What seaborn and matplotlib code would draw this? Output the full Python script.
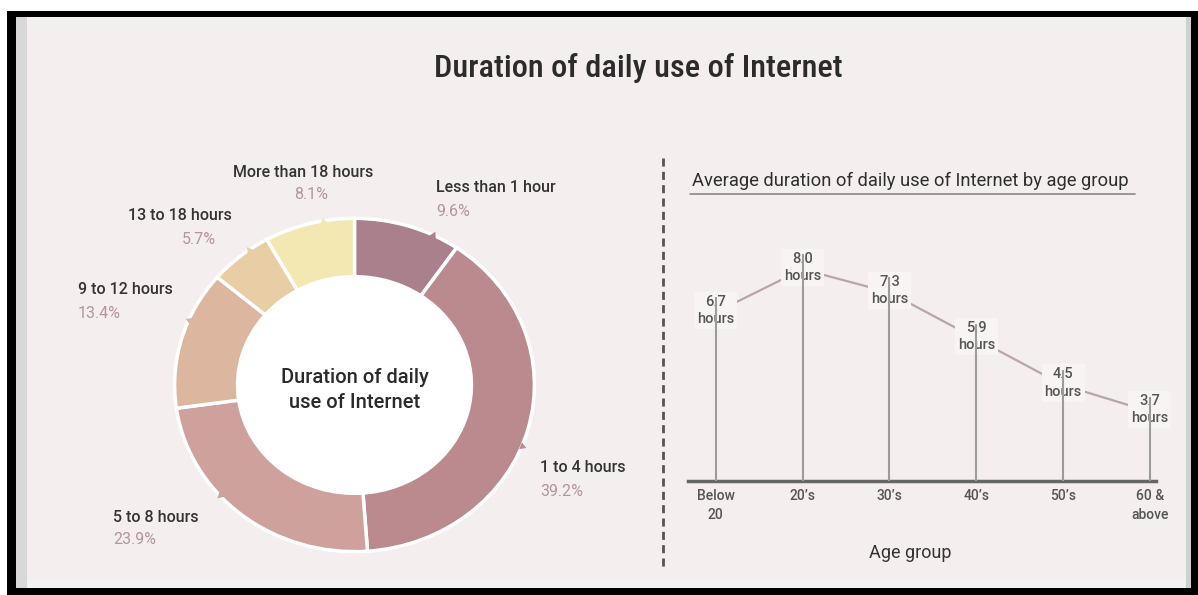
import matplotlib
matplotlib.use('Agg')
import matplotlib.pyplot as plt
import seaborn as sns
import numpy as np
import pandas as pd
from matplotlib.patches import Rectangle, Circle
from matplotlib.lines import Line2D
from matplotlib.transforms import ScaledTranslation

# ------------------------------------------------------------
# data
# ------------------------------------------------------------
usage_labels = ['Less than 1 hour', '1 to 4 hours', '5 to 8 hours',
                '9 to 12 hours', '13 to 18 hours', 'More than 18 hours']
usage_share = [9.6, 39.2, 23.9, 13.4, 5.7, 8.1]

age_groups = ['Below\n20', '20\u2019s', '30\u2019s', '40\u2019s', '50\u2019s', '60 &\nabove']
avg_hours = [6.7, 8.0, 7.3, 5.9, 4.5, 3.7]

# styles
usage_colors = ['#a9808b', '#ba8a8f', '#cfa19c', '#dcb69f', '#e9cea5', '#f4e8b2']
BG = '#f5eeee'
DARK = '#333333'
PCT = '#b3959a'

# label anchors in pixels: (name x, name y, pct x, pct y, ha)
label_pos = [
    (436, 187, 436, 211, 'left'),
    (540, 468, 540, 492, 'left'),
    (113, 517, 113, 540, 'left'),
    (78, 290, 78, 313, 'left'),
    (180, 215, 199, 240, 'center'),
    (303, 172, 311, 195, 'center'),
]
# small callout notches on the ring edge (degrees)
notch_angles = [64, -21.5, 221.5, 157, 126, 100]

sns.set_theme(style='white')
plt.rcParams['font.family'] = ['Roboto', 'DejaVu Sans']

W, H = 1198, 595


def fx(x):
    return x / W


def fy(y):
    return 1 - y / H


def px_rect(x0, y0, x1, y1, color, z=-5):
    r = Rectangle((fx(x0), fy(y1)), fx(x1) - fx(x0), fy(y0) - fy(y1),
                  transform=fig.transFigure, facecolor=color, edgecolor='none', zorder=z)
    fig.add_artist(r)


fig = plt.figure(figsize=(W / 100, H / 100), dpi=100, facecolor='white')

# framed panel
px_rect(7, 11, 1198, 595, 'black', -7)
px_rect(16, 17, 1191, 588, '#f3f1f1', -6)
px_rect(16, 17, 27, 588, '#d8d8d8', -5)
px_rect(1186, 17, 1191, 588, '#d0d0d0', -5)
px_rect(27, 20, 1186, 581, BG, -5)

# title
title = fig.text(fx(638), fy(68), 'Duration of daily use of Internet', ha='center', va='center',
                 fontsize=30, color='#2b2b2b', weight='medium',
                 family=['Roboto Condensed', 'Liberation Sans Narrow', 'Roboto', 'DejaVu Sans'])

# ============================================================
# DONUT
# ============================================================
ax_pie = fig.add_axes([fx(171), fy(555), fx(538) - fx(171), fy(215) - fy(555)])
ax_pie.set_facecolor('none')
wedges, _ = ax_pie.pie(usage_share, colors=usage_colors, startangle=90, counterclock=False,
                       radius=1, wedgeprops=dict(width=0.35, edgecolor='white', linewidth=2.5))
ax_pie.set_aspect('auto')
ax_pie.set_xlim(-1.02, 1.02)
ax_pie.set_ylim(-1.02, 1.02)
ax_pie.add_patch(Circle((0, 0), 0.65, facecolor='white', edgecolor='none', zorder=0))
ax_pie.text(0, -0.03, 'Duration of daily\nuse of Internet', ha='center', va='center',
            fontsize=14.5, weight='medium', color='#2a2a2a', linespacing=1.45)

for ang, col in zip(notch_angles, usage_colors):
    a = np.deg2rad(ang)
    ax_pie.plot(np.cos(a) * 1.0, np.sin(a) * 1.0, marker=(3, 0, ang - 90), ms=6,
                color=col, mec='none', clip_on=False, zorder=1)

for name, share, (nx, ny, qx, qy, ha) in zip(usage_labels, usage_share, label_pos):
    fig.text(fx(nx), fy(ny), name, ha=ha, va='center', fontsize=11.5,
             weight='medium', color='#333333')
    fig.text(fx(qx), fy(qy), f'{share:.1f}%', ha=ha, va='center', fontsize=11.5,
             color=PCT)

# separator
fig.add_artist(Line2D([fx(663), fx(663)], [fy(158), fy(568)], transform=fig.transFigure,
                      color='#555555', lw=2, ls=(0, (2.9, 1.9))))

# ============================================================
# AGE GROUP CHART
# ============================================================
sub = fig.text(fx(692), fy(181), 'Average duration of daily use of Internet by age group',
               ha='left', va='center', fontsize=11.5, color='#2e2e2e')
fig.add_artist(Line2D([fx(690), fx(1135)], [fy(194), fy(194)], transform=fig.transFigure,
                      color='#8a8a8a', lw=1.2))

ax = fig.add_axes([fx(688), fy(481), fx(1156) - fx(688), fy(200) - fy(481)])
ax.set_facecolor('none')
pos = np.arange(len(age_groups))
df = pd.DataFrame({'pos': pos, 'hours': avg_hours})

sns.lineplot(data=df, x='pos', y='hours', ax=ax, color='#b9a5a8', lw=1.6, zorder=2)
ax.lines[0].set_transform(ax.transData + ScaledTranslation(0, -0.15, fig.dpi_scale_trans))
ax.vlines(pos, 0, avg_hours, color='#9c9c9c', lw=1.5, zorder=4)

for xi, v in zip(pos, avg_hours):
    ax.annotate(f'{v:.1f}\nhours', (xi, v), xytext=(0, 2), textcoords='offset points',
                ha='center', va='top', fontsize=10.5, weight='medium', color='#555555',
                linespacing=1.3, zorder=3,
                bbox=dict(boxstyle='square,pad=0.2', fc='#f8f4f4', ec='none'))

ax.set_xlim(-0.32, 5.07)
ax.set_ylim(1.15, 9.64)
ax.set_xticks(pos)
ax.set_xticklabels(age_groups, fontsize=10, weight='medium', color='#555555', linespacing=1.4)
ax.tick_params(axis='x', length=0, pad=6)
ax.set_yticks([])
ax.set_ylabel('')
ax.set_xlabel('Age group', fontsize=13, color=DARK)
ax.xaxis.label.set_va('center')
ax.xaxis.set_label_coords(0.474, -0.256)
for s in ['left', 'right', 'top']:
    ax.spines[s].set_visible(False)
ax.spines['bottom'].set_color('#666666')
ax.spines['bottom'].set_linewidth(2.5)

# fit title / subtitle widths to the reference
fig.canvas.draw()
r = fig.canvas.get_renderer()
for t, target in [(title, 408), (sub, 438)]:
    w = t.get_window_extent(r).width
    t.set_fontsize(t.get_fontsize() * target / w)

fig.savefig('out.png', dpi=100, facecolor=fig.get_facecolor())
